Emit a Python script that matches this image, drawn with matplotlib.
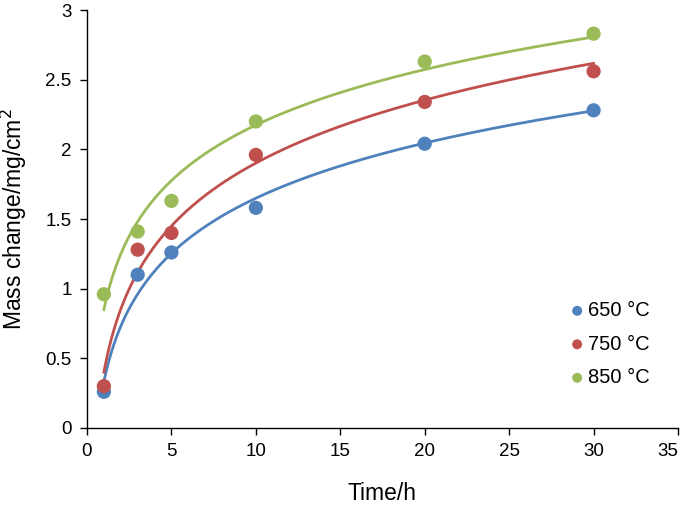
import matplotlib
matplotlib.use("Agg")
import matplotlib.pyplot as plt
import numpy as np

# ── Data ──────────────────────────────────────────────────────────────
time_h = [1, 3, 5, 10, 20, 30]
mass_650 = [0.26, 1.10, 1.26, 1.58, 2.04, 2.28]
mass_750 = [0.30, 1.28, 1.40, 1.96, 2.34, 2.56]
mass_850 = [0.96, 1.41, 1.63, 2.20, 2.63, 2.83]
labels = ["650 °C", "750 °C", "850 °C"]

COLORS = ["#4F81BD", "#C0504D", "#9BBB59"]

plt.rcParams["font.family"] = ["Liberation Sans", "DejaVu Sans"]

fig = plt.figure(figsize=(6.85, 5.05), dpi=100)
ax = fig.add_axes([87 / 685, 1 - 428 / 505, (678 - 87) / 685, (428 - 10) / 505])

t = np.array(time_h, dtype=float)
t_fit = np.linspace(1, 30, 200)
for ys, col, lab in zip([mass_650, mass_750, mass_850], COLORS, labels):
    ys = np.array(ys)
    # logarithmic trendline y = a ln(t) + b
    a, b = np.polyfit(np.log(t), ys, 1)
    ax.plot(t_fit, a * np.log(t_fit) + b, color=col, linewidth=2.0, zorder=2)
    ax.scatter(t, ys, s=105, color=col, zorder=3, label=lab, edgecolors="none")

ax.set_xlim(0, 35)
ax.set_ylim(0, 3)
ax.set_xticks(range(0, 36, 5))
ax.set_yticks([0, 0.5, 1, 1.5, 2, 2.5, 3])
ax.set_yticklabels(["0", "0.5", "1", "1.5", "2", "2.5", "3"])

for s in ["top", "right"]:
    ax.spines[s].set_visible(False)
for s in ["left", "bottom"]:
    ax.spines[s].set_linewidth(1.0)
ax.tick_params(direction="out", length=5, width=1.0, labelsize=13.5, pad=6)
# last x tick label pulled inside the figure
ax.get_xticklabels()[-1].set_horizontalalignment("right")

ax.set_xlabel("Time/h", fontsize=16.5, labelpad=16)
ax.set_ylabel("Mass change/mg/cm$^2$", fontsize=16.5, labelpad=12)

ax.legend(loc="upper left", bbox_to_anchor=(553 / 685, 1 - 287 / 505),
          bbox_transform=fig.transFigure, frameon=False,
          fontsize=14.5, handletextpad=0.05, markerscale=0.7, labelspacing=0.72,
          handlelength=1.0, borderpad=0.2)

fig.savefig("out.png", dpi=100)
